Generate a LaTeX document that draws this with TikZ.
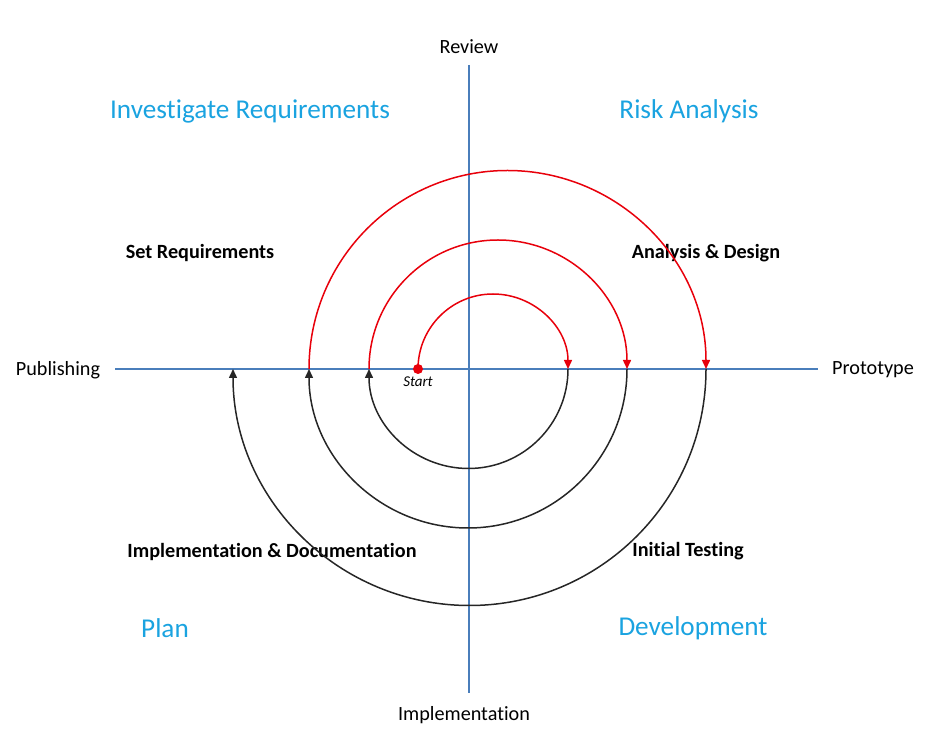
\documentclass[tikz,border=0pt]{standalone}
\usepackage{fontspec}
\setmainfont{Carlito}[RawFeature=-liga]
\usetikzlibrary{arrows.meta}
\definecolor{axisblue}{HTML}{4A7EBB}
\definecolor{headblue}{HTML}{1AA3E0}
\definecolor{arcred}{HTML}{E8000B}

\begin{document}
\begin{tikzpicture}[x=1pt, y=1pt,
    axis/.style={draw=axisblue, line width=1.5pt},
    axlabel/.style={font=\fontsize{20.2}{23}\selectfont, inner sep=0pt},
    quadrant/.style={font=\fontsize{27.2}{31}\selectfont, text=headblue, inner sep=0pt},
    task/.style={font=\bfseries\fontsize{20.2}{23}\selectfont, inner sep=0pt},
    redarc/.style={arcred, line width=1.5pt, -{Triangle[length=9pt, width=8pt]}},
    blackarc/.style={black!85, line width=1.5pt, -{Triangle[length=9pt, width=8pt]}}
]
\useasboundingbox (0,0) rectangle (942,747);

% axes
\coordinate (top) at (469,682);
\coordinate (bottom) at (469,54);
\coordinate (left) at (115,378);
\coordinate (right) at (818,378);
\draw[axis] (top) -- (bottom);
\draw[axis] (left) -- (right);

\node[axlabel] (review) at (469,700) {Review};
\node[axlabel] (impl) at (464,32) {Implementation};
\node[axlabel] (publ) at (58,377) {Publishing};
\node[axlabel] (proto) at (873,377) {Prototype};

% quadrants
\node[quadrant] (invreq) at (250,636) {Investigate Requirements};
\node[quadrant] (risk) at (689,636) {Risk Analysis};
\node[quadrant] (plan) at (165,119) {Plan};
\node[quadrant] (devel) at (693,119) {Development};

\node[task] (setreq) at (200,494) {Set Requirements};
\node[task] (design) at (706,494) {Analysis \& Design};
\node[task] (impdoc) at (272,195) {Implementation \& Documentation};
\node[task] (testing) at (688,196) {Initial Testing};

% crossing points of the spiral
\coordinate (s) at (418,378);
\coordinate (r1) at (568,378);
\coordinate (r2) at (627,378);
\coordinate (r3) at (706,378);
\coordinate (l1) at (369,378);
\coordinate (l2) at (309,378);
\coordinate (l3) at (233,378);

% spiral
\draw[redarc] (s) arc[start angle=180, end angle=0, radius=75];
\draw[blackarc] (r1) arc[start angle=0, end angle=-180, radius=99.5];
\draw[redarc] (l1) arc[start angle=180, end angle=0, radius=129];
\draw[blackarc] (r2) arc[start angle=0, end angle=-180, radius=159];
\draw[redarc] (l2) arc[start angle=180, end angle=0, radius=198.5];
\draw[blackarc] (r3) arc[start angle=0, end angle=-180, radius=236.5];

\fill[arcred] (s) circle[radius=5];
\node[font=\itshape\fontsize{15}{17}\selectfont, below=4pt] (start) at (s) {Start};
\end{tikzpicture}
\end{document}
